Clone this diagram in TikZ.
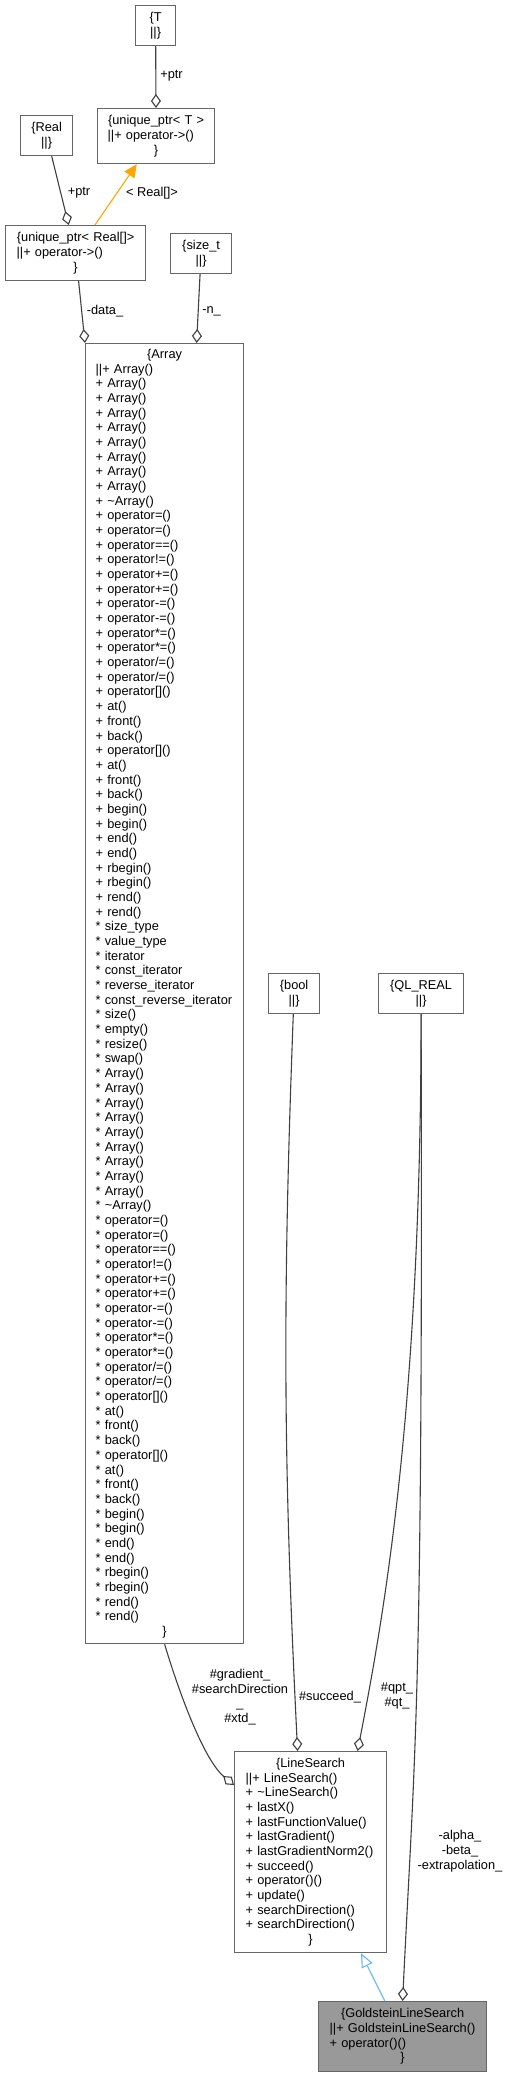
\documentclass[tikz,border=0pt]{standalone}
\usepackage{fontspec}
\setmainfont{Liberation Sans}
\usepackage{xcolor}
\usepackage{tikz}
\usetikzlibrary{arrows.meta}

\definecolor{boxline}{HTML}{666666}
\definecolor{edgeline}{HTML}{404040}
\definecolor{inhline}{HTML}{63B8FF}
\definecolor{tmplline}{HTML}{FFA500}
\definecolor{curfill}{HTML}{999999}

\newcommand{\umlfont}{\fontsize{12.8pt}{14.68pt}\selectfont}
\newcommand{\clsctr}[1]{\makebox[\linewidth]{#1}}

\tikzset{
    leaf/.style={draw=boxline, line width=1.2pt, fill=white, anchor=north west,
        align=center, font=\umlfont, inner sep=0pt},
    cls/.style={draw=boxline, line width=1.2pt, fill=white, anchor=north west,
        align=left, font=\umlfont, inner ysep=0pt},
    lbl/.style={font=\umlfont, align=center, inner sep=0pt},
    memb/.style={draw=edgeline, line width=1.1pt, -{Diamond[open, length=14pt, width=10pt]}},
    tmpl/.style={draw=tmplline, line width=1.1pt, -{Triangle[length=13pt, width=12pt, fill=tmplline]}},
    inh/.style={draw=inhline, line width=1.1pt, -{Triangle[open, length=14pt, width=12pt, fill=white]}},
}

\begin{document}
\begin{tikzpicture}[x=1pt, y=-1pt]
    \fill[white] (0,0) rectangle (509,2076);
    \useasboundingbox (0,0) rectangle (509,2076);

    % leaf types
    \node[leaf, minimum width=40pt, minimum height=40pt] (T) at (135,5) {\{T\\||\}};
    \node[leaf, minimum width=52pt, minimum height=40pt] (real) at (20,115) {\{Real\\||\}};
    \node[leaf, minimum width=61pt, minimum height=40pt] (sizet) at (170,233) {\{size\_t\\||\}};
    \node[leaf, minimum width=51pt, minimum height=40pt] (bool) at (268,973) {\{bool\\||\}};
    \node[leaf, minimum width=85pt, minimum height=40pt] (qlreal) at (378,973) {\{QL\_REAL\\||\}};

    % classes
    \node[cls, minimum width=117pt, minimum height=55pt, inner xsep=10pt, text width=97pt]
        (uptrT) at (97,108) {\clsctr{\{unique\_ptr< T >}\\||+ operator->()\\\clsctr{\}}};
    \node[cls, minimum width=140pt, minimum height=55pt, inner xsep=11pt, text width=118pt]
        (uptrReal) at (5,225) {\clsctr{\{unique\_ptr< Real[]>}\\||+ operator->()\\\clsctr{\}}};
    \node[cls, minimum width=158pt, minimum height=1300pt, inner xsep=10pt, text width=138pt]
        (array) at (85,343) {\clsctr{\{Array}\\
        ||+ Array()\\
        + Array()\\
        + Array()\\
        + Array()\\
        + Array()\\
        + Array()\\
        + Array()\\
        + Array()\\
        + Array()\\
        + \textasciitilde Array()\\
        + operator=()\\
        + operator=()\\
        + operator==()\\
        + operator!=()\\
        + operator+=()\\
        + operator+=()\\
        + operator-=()\\
        + operator-=()\\
        + operator*=()\\
        + operator*=()\\
        + operator/=()\\
        + operator/=()\\
        + operator[]()\\
        + at()\\
        + front()\\
        + back()\\
        + operator[]()\\
        + at()\\
        + front()\\
        + back()\\
        + begin()\\
        + begin()\\
        + end()\\
        + end()\\
        + rbegin()\\
        + rbegin()\\
        + rend()\\
        + rend()\\
        {*} size\_type\\
        {*} value\_type\\
        {*} iterator\\
        {*} const\_iterator\\
        {*} reverse\_iterator\\
        {*} const\_reverse\_iterator\\
        {*} size()\\
        {*} empty()\\
        {*} resize()\\
        {*} swap()\\
        {*} Array()\\
        {*} Array()\\
        {*} Array()\\
        {*} Array()\\
        {*} Array()\\
        {*} Array()\\
        {*} Array()\\
        {*} Array()\\
        {*} Array()\\
        {*} \textasciitilde Array()\\
        {*} operator=()\\
        {*} operator=()\\
        {*} operator==()\\
        {*} operator!=()\\
        {*} operator+=()\\
        {*} operator+=()\\
        {*} operator-=()\\
        {*} operator-=()\\
        {*} operator*=()\\
        {*} operator*=()\\
        {*} operator/=()\\
        {*} operator/=()\\
        {*} operator[]()\\
        {*} at()\\
        {*} front()\\
        {*} back()\\
        {*} operator[]()\\
        {*} at()\\
        {*} front()\\
        {*} back()\\
        {*} begin()\\
        {*} begin()\\
        {*} end()\\
        {*} end()\\
        {*} rbegin()\\
        {*} rbegin()\\
        {*} rend()\\
        {*} rend()\\
        \clsctr{\}}};
    \node[cls, minimum width=152pt, minimum height=201pt, inner xsep=11pt, text width=130pt]
        (ls) at (234,1751) {\clsctr{\{LineSearch}\\
        ||+ LineSearch()\\
        + \textasciitilde LineSearch()\\
        + lastX()\\
        + lastFunctionValue()\\
        + lastGradient()\\
        + lastGradientNorm2()\\
        + succeed()\\
        + operator()()\\
        + update()\\
        + searchDirection()\\
        + searchDirection()\\
        \clsctr{\}}};
    \node[cls, fill=curfill, minimum width=168pt, minimum height=70pt, inner xsep=11pt, text width=146pt]
        (gls) at (318,2001) {\clsctr{\{GoldsteinLineSearch}\\
        ||+~GoldsteinLineSearch()\\
        + operator()()\\
        \clsctr{\}}};

    % connectors
    \draw[memb] (T) -- (uptrT);
    \draw[memb] (real) -- (uptrReal);
    \draw[tmpl] (uptrReal) -- (uptrT);
    \draw[memb] ([xshift=3pt]uptrReal.south) -- (array.north west);
    \draw[memb] (sizet) -- ([xshift=32pt]array.north);
    \draw[memb] (array.south) .. controls +(15,50) and +(-30,-25) .. ([yshift=-34pt]ls.north west);
    \draw[memb] (bool) to[bend right=2.5] ([xshift=-13pt]ls.north);
    \draw[memb] (qlreal.south) .. controls +(0,400) and +(25,-130) .. ([xshift=47pt]ls.north);
    \draw[memb] (qlreal.south) .. controls +(2,700) and +(12,-250) .. (gls.north);
    \draw[inh] (gls) -- (ls);

    % labels
    \node[lbl] (ptrT) at (171.5,76) {+ptr};
    \node[lbl] (ptrReal) at (79,193) {+ptr};
    \node[lbl] (tmplReal) at (152,193) {< Real[]>};
    \node[lbl] (dataLbl) at (105,311) {-data\_};
    \node[lbl] (nLbl) at (211.5,311) {-n\_};
    \node[lbl] (gradLbl) at (240,1697) {\#gradient\_\\\#searchDirection\\\_\\\#xtd\_};
    \node[lbl] (succLbl) at (330,1697) {\#succeed\_};
    \node[lbl] (qptLbl) at (397,1696) {\#qpt\_\\\#qt\_};
    \node[lbl] (alphaLbl) at (460,1851) {-alpha\_\\-beta\_\\-extrapolation\_};
\end{tikzpicture}
\end{document}
